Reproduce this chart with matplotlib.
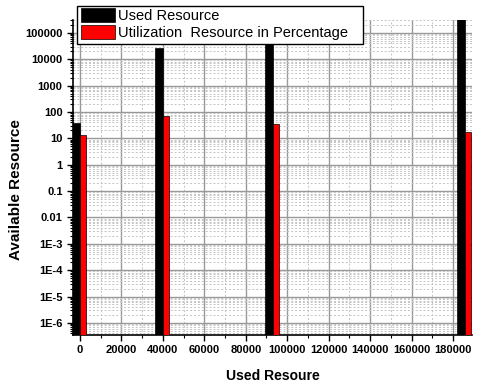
import matplotlib.pyplot as plt
from matplotlib.ticker import MultipleLocator, LogLocator, FixedLocator, FixedFormatter
from matplotlib.patches import Rectangle
import numpy as np

plt.rcParams['font.family'] = ['Liberation Sans', 'DejaVu Sans']

# data
positions = [0, 40000, 93000, 186000]
used_resource = [38, 26000, 37000, 400000]
utilization_pct = [13, 70, 35, 17]

ytick_vals = [1e-6, 1e-5, 1e-4, 1e-3, 0.01, 0.1, 1, 10, 100, 1000, 10000, 100000]
ytick_labels = ['1E-6', '1E-5', '1E-4', '1E-3', '0.01', '0.1', '1', '10', '100', '1000', '10000', '100000']

W, H = 480, 383
fig = plt.figure(figsize=(W / 100, H / 100), dpi=100)
ax = fig.add_axes([73 / W, 48 / H, 399 / W, 315 / H])

w_black = 3900
w_red = 2900
x = np.array(positions)
floor = 1e-8
ax.bar(x - w_black / 2, np.array(used_resource) - floor, width=w_black, bottom=floor,
       color='black', edgecolor='black', linewidth=0.5, label='Used Resource', zorder=3)
ax.bar(x + w_red / 2, np.array(utilization_pct) - floor, width=w_red, bottom=floor,
       color='#ff0000', edgecolor='black', linewidth=0.5,
       label='Utilization  Resource in Percentage', zorder=3)

ax.set_yscale('log')
ax.set_xlim(-3400, 189200)
ax.set_ylim(10 ** -6.46, 10 ** 5.49)

ax.yaxis.set_major_locator(FixedLocator(ytick_vals))
ax.yaxis.set_major_formatter(FixedFormatter(ytick_labels))
ax.yaxis.set_minor_locator(LogLocator(base=10, subs=np.arange(2, 10), numticks=30))
ax.xaxis.set_major_locator(MultipleLocator(20000))
ax.xaxis.set_minor_locator(MultipleLocator(10000))

ax.grid(which='major', color='#999999', linewidth=1.0, linestyle='-', zorder=0)
ax.grid(which='minor', color='#c4c4c4', linewidth=0.7, linestyle=(0, (2, 2)), zorder=0)
ax.set_axisbelow(True)

for s in ['top', 'right']:
    ax.spines[s].set_visible(False)
for s in ['left', 'bottom']:
    ax.spines[s].set_linewidth(1.2)

ax.tick_params(which='major', direction='out', length=4, width=1, labelsize=8)
ax.tick_params(which='minor', direction='out', length=2, width=0.8)
for lab in ax.get_xticklabels() + ax.get_yticklabels():
    lab.set_fontweight('bold')

ax.set_xlabel('Used Resoure', fontsize=10, fontweight='bold', labelpad=10)
ax.set_ylabel('Available Resource', fontsize=11, fontweight='bold')
ax.yaxis.set_label_coords((23 - 73) / 399, (335 - 190) / 315)

# legend box drawn by hand so the padding matches the reference
fig.patches.append(Rectangle((77 / W, 1 - 44 / H), 286 / W, 38 / H, transform=fig.transFigure,
                             facecolor='white', edgecolor='black', linewidth=1.0, zorder=4))
leg = fig.legend(loc='upper left', bbox_to_anchor=(79 / W, 1 - 6 / H),
                 fontsize=10.5, frameon=False, handlelength=2.3, handleheight=1.05,
                 handletextpad=0.25, labelspacing=0.15, borderpad=0.15, borderaxespad=0)
leg.set_zorder(5)

fig.savefig('out.png', dpi=100)
